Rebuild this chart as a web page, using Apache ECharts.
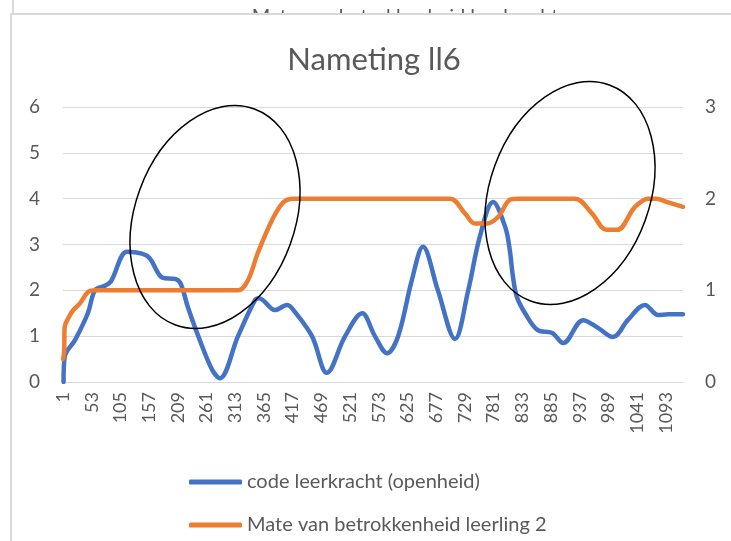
<!DOCTYPE html>
<html>
<head>
<meta charset="utf-8">
<script src="https://cdn.jsdelivr.net/npm/echarts@6/dist/echarts.min.js"></script>
<style>
  html, body { margin: 0; padding: 0; background: #fff; }
  #chart { width: 731px; height: 541px; }
</style>
</head>
<body>
<div id="chart"></div>
<script>
  // waarden (x = volgnummer meting)
  const teacherX = [2, 4, 23, 46, 59, 77, 88, 117, 144, 158, 182, 204, 214, 227, 246, 271, 285, 318, 349, 356, 385, 407, 421, 452, 479, 512, 543, 566, 588, 608, 633, 653, 680, 711, 735, 756, 780, 802, 810, 816, 823, 838, 861, 887, 907, 943, 970, 997, 1024, 1055, 1079, 1097, 1124];
  const teacherY = [0, 0.55, 0.92, 1.5, 2.0, 2.1, 2.2, 2.84, 2.8, 2.7, 2.27, 2.25, 2.15, 1.64, 1.0, 0.27, 0.08, 1.0, 1.79, 1.83, 1.57, 1.68, 1.53, 1.0, 0.2, 1.0, 1.5, 1.0, 0.63, 1.0, 2.23, 2.95, 2.0, 0.94, 2.0, 3.17, 3.93, 3.38, 2.9, 2.3, 1.86, 1.5, 1.13, 1.07, 0.85, 1.35, 1.18, 0.98, 1.35, 1.68, 1.46, 1.48, 1.48];

  const pupilX = [1, 3, 4, 11, 19, 32, 46, 60, 318, 336, 354, 380, 400, 418, 702, 729, 747, 769, 789, 811, 825, 928, 959, 985, 1005, 1037, 1061, 1075, 1097, 1124];
  const pupilY = [0.25, 0.32, 0.6, 0.7, 0.78, 0.86, 0.98, 1.0, 1.0, 1.11, 1.41, 1.77, 1.96, 2.0, 2.0, 1.84, 1.73, 1.73, 1.8, 1.99, 2.0, 2.0, 1.84, 1.66, 1.66, 1.91, 2.0, 2.0, 1.96, 1.91];

  const seriesNames = ['code leerkracht (openheid)', 'Mate van betrokkenheid leerling 2'];
  const chartTitle = 'Nameting ll6';
  const backTitle = 'Mate van betrokkenheid leerkracht';

  const font = 'Lato, "Open Sans", sans-serif';
  const grey = '#595959';

  let myChart = echarts.init(document.getElementById('chart'));

  myChart.setOption({
    backgroundColor: '#fff',
    animation: false,
    textStyle: { fontFamily: font },
    title: {
      text: chartTitle,
      left: 369,
      top: 39,
      textAlign: 'center',
      textStyle: { fontFamily: font, fontSize: 31, fontWeight: 'normal', color: grey }
    },
    legend: {
      orient: 'vertical',
      left: 189,
      top: 472,
      padding: 0,
      itemWidth: 53,
      itemHeight: 5,
      itemGap: 23,
      icon: 'roundRect',
      data: seriesNames,
      textStyle: { fontFamily: font, fontSize: 20, color: grey }
    },
    grid: { left: 63, right: 48, top: 107, bottom: 159 },
    xAxis: {
      type: 'value',
      min: 1,
      max: 1124,
      interval: 52,
      axisLine: { lineStyle: { color: '#d9d9d9', width: 1 } },
      axisTick: { show: false },
      splitLine: { show: false },
      axisLabel: {
        rotate: 90,
        margin: 10,
        showMaxLabel: false,
        color: grey,
        fontSize: 18,
        fontFamily: font,
        formatter: v => String(v)
      }
    },
    yAxis: [
      {
        type: 'value',
        min: 0,
        max: 6,
        interval: 1,
        axisLine: { show: false },
        axisTick: { show: false },
        splitLine: { lineStyle: { color: '#d9d9d9', width: 1 } },
        axisLabel: { margin: 23, color: grey, fontSize: 19, fontFamily: font }
      },
      {
        type: 'value',
        min: 0,
        max: 3,
        interval: 1,
        axisLine: { show: false },
        axisTick: { show: false },
        splitLine: { show: false },
        axisLabel: { margin: 22, color: grey, fontSize: 19, fontFamily: font }
      }
    ],
    series: [
      {
        name: seriesNames[0],
        type: 'line',
        yAxisIndex: 0,
        smooth: 0.35,
        showSymbol: false,
        color: '#4472C4',
        lineStyle: { width: 4.5, cap: 'round', join: 'round' },
        data: teacherX.map((x, i) => [x, teacherY[i]])
      },
      {
        name: seriesNames[1],
        type: 'line',
        yAxisIndex: 1,
        smooth: 0.35,
        showSymbol: false,
        color: '#ED7D31',
        lineStyle: { width: 4.5, cap: 'round', join: 'round' },
        data: pupilX.map((x, i) => [x, pupilY[i]])
      }
    ],
    graphic: [
      // grafiek die erachter ligt
      {
        type: 'text', z: -10,
        style: { text: backTitle, x: 405, y: 7, align: 'center', verticalAlign: 'top', fill: grey, fontSize: 20, fontFamily: font }
      },
      {
        type: 'line', z: -10,
        shape: { x1: 13, y1: -5, x2: 13, y2: 14 },
        style: { stroke: '#d9d9d9', lineWidth: 2 }
      },
      // kader van deze grafiek
      {
        type: 'rect', z: -5,
        shape: { x: 11, y: 14, width: 800, height: 600 },
        style: { fill: '#fff', stroke: '#d9d9d9', lineWidth: 2 }
      },
      // omcirkelde stukken
      {
        type: 'ellipse', z: 100,
        x: 215, y: 217, rotation: -0.35,
        shape: { cx: 0, cy: 0, rx: 80, ry: 115 },
        style: { fill: 'none', stroke: '#000', lineWidth: 1.5 }
      },
      {
        type: 'ellipse', z: 100,
        x: 570, y: 193, rotation: -0.35,
        shape: { cx: 0, cy: 0, rx: 80, ry: 115 },
        style: { fill: 'none', stroke: '#000', lineWidth: 1.5 }
      }
    ]
  });
</script>
</body>
</html>
